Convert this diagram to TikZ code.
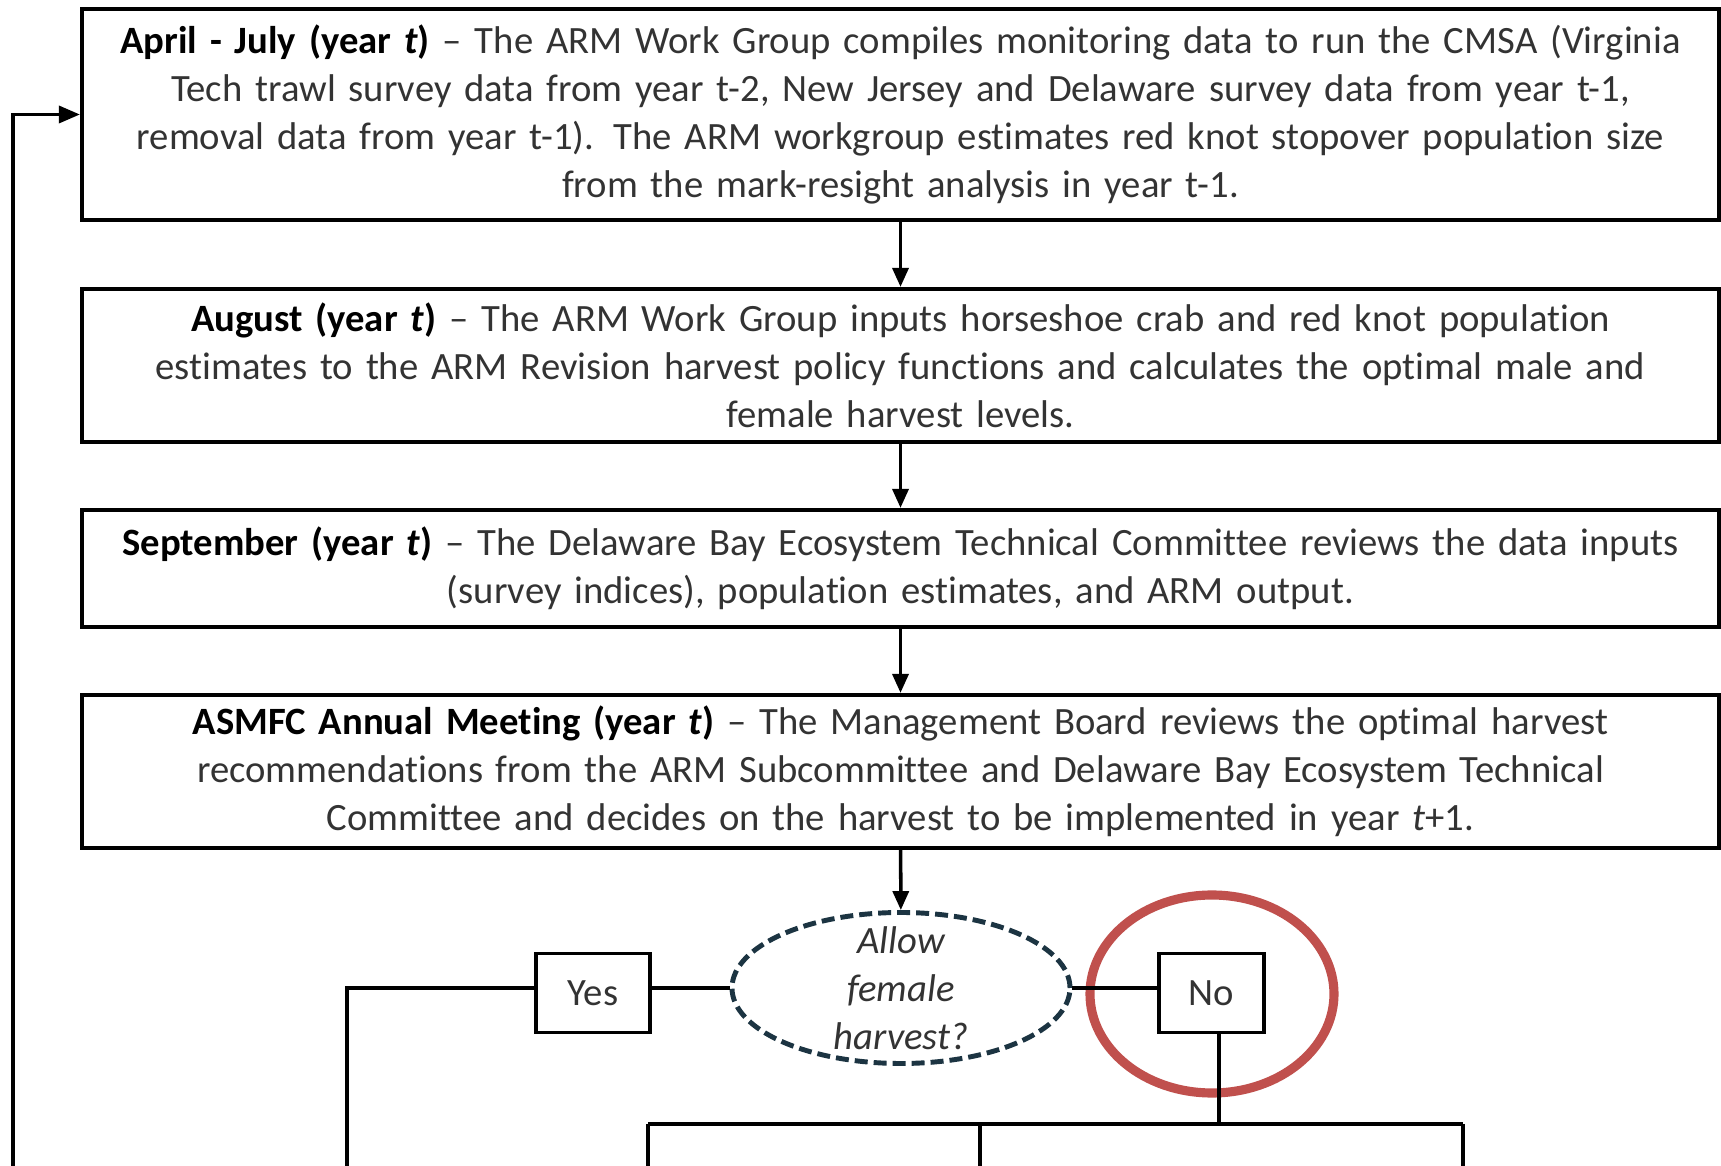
\documentclass[tikz,border=0pt]{standalone}
\usepackage{fontspec}
\setmainfont{Carlito}[Ligatures=NoCommon]
\usetikzlibrary{arrows.meta,shapes.geometric}

\definecolor{ellipseblue}{RGB}{28,52,66}
\definecolor{markred}{RGB}{192,80,77}
\newcommand{\hd}[1]{{\color{black}\textbf{#1}}}

\begin{document}
\begin{tikzpicture}[x=0.1mm,y=-0.1mm,
  stagebox/.style={draw, line width=1.2pt, minimum width=163.7mm, text width=160mm,
    align=center, inner sep=0pt, font=\fontsize{11}{13.6}\selectfont, text=black!80},
  answer/.style={draw, line width=1pt, minimum height=7.9mm, inner sep=0pt,
    font=\fontsize{11}{13.6}\selectfont, text=black!80},
  flow/.style={line width=1pt, -{Triangle[length=1.9mm,width=1.6mm]}},
  link/.style={line width=1pt}]

\useasboundingbox (0,0) rectangle (1721,1166);

% the four stages of the year
\node[stagebox, minimum height=21.1mm] (april) at (900.5,114.5) {%
  \hd{April - July (year \textit{t})} -- The ARM Work Group compiles monitoring data to run the CMSA (Virginia\\
  Tech trawl survey data from year t-2, New Jersey and Delaware survey data from year t-1,\\
  removal data from year t-1). The ARM workgroup estimates red knot stopover population size\\
  from the mark-resight analysis in year t-1.};
\node[stagebox, minimum height=15.3mm] (august) at (900.5,365.5) {%
  \hd{August (year \textit{t})} -- The ARM Work Group inputs horseshoe crab and red knot population\\
  estimates to the ARM Revision harvest policy functions and calculates the optimal male and\\
  female harvest levels.};
\node[stagebox, minimum height=11.7mm] (september) at (900.5,568.5) {%
  \hd{September (year \textit{t})} -- The Delaware Bay Ecosystem Technical Committee reviews the data inputs\\
  (survey indices), population estimates, and ARM output.};
\node[stagebox, minimum height=15.3mm] (meeting) at (900.5,771.5) {%
  \hd{ASMFC Annual Meeting (year \textit{t})} -- The Management Board reviews the optimal harvest\\
  recommendations from the ARM Subcommittee and Delaware Bay Ecosystem Technical\\
  Committee and decides on the harvest to be implemented in year \textit{t}+1.};

% decision
\node[ellipse, draw=ellipseblue, line width=1.4pt, dash pattern=on 1.3mm off 0.6mm,
  minimum width=33.8mm, minimum height=15.1mm, inner sep=-1.8mm, align=center,
  font=\fontsize{11}{13.6}\selectfont\itshape, text=black!80] (allow) at (901,988)
  {Allow\\female\\harvest?};
\node[answer, minimum width=11.4mm] (yes) at (593,993) {Yes};
\node[answer, minimum width=10.5mm] (no) at (1211.5,993) {No};
\node[ellipse, draw=markred, line width=2.6pt, minimum width=24.4mm,
  minimum height=19.8mm, inner sep=0pt] (nomark) at (1212,994) {};

\coordinate (loopfoot) at (13,1166);
\coordinate (yesfoot) at (347,1166);
\coordinate (split) at (1219,1124);
\coordinate (splitl) at (648,1124);
\coordinate (splitm) at (980,1124);
\coordinate (splitr) at (1463,1124);

\path[flow]
  (april) edge (august)
  (august) edge (september)
  (september) edge (meeting)
  (meeting) edge (allow);
\draw[flow, -{Triangle[length=2.1mm,width=1.7mm]}] (loopfoot) |- (april.west);

\draw[link] (allow.west) -- (allow.west -| yes.east);
\draw[link] (yes.west |- allow.west) -| (yesfoot);
\draw[link] (allow.east) -- (allow.east -| no.west);
\draw[link] (no.south -| split) -- (split);
\draw[link] (splitl) -- (splitr);
\draw[link] (splitl) -- (splitl |- yesfoot);
\draw[link] (splitm) -- (splitm |- yesfoot);
\draw[link] (splitr) -- (splitr |- yesfoot);

\end{tikzpicture}
\end{document}
